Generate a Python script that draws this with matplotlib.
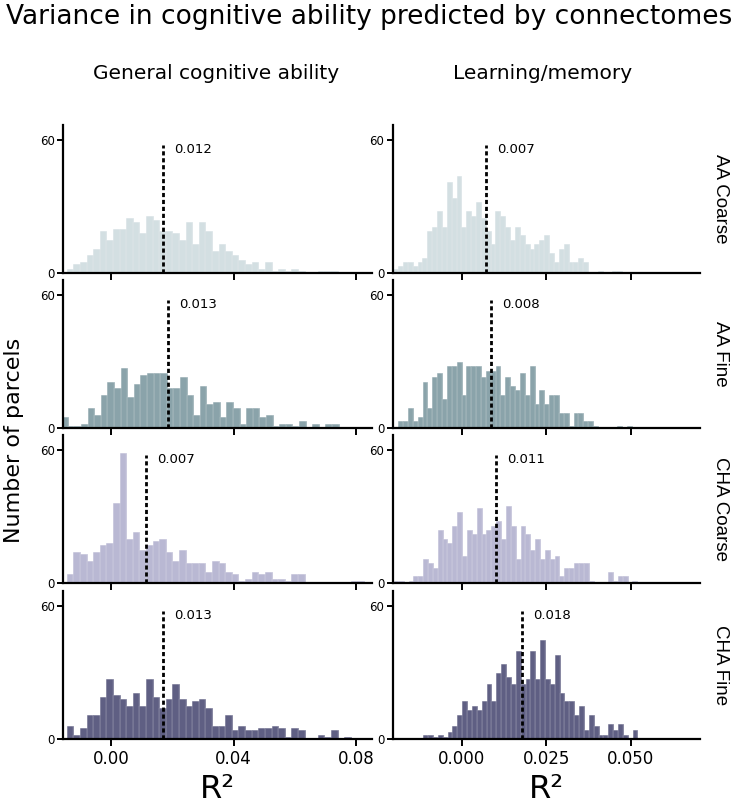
import numpy as np
import matplotlib
matplotlib.use("Agg")
import matplotlib.pyplot as plt

# histogram bin counts (number of parcels)
rows = ["AA Coarse", "AA Fine", "CHA Coarse", "CHA Fine"]
cols = ["General cognitive ability", "Learning/memory"]

gen_bin_width = 0.00216
mem_bin_width = 0.00144
gen_first_edge = [-0.01454, -0.01637, -0.01454, -0.01454]
mem_first_edge = [-0.02023, -0.01875, -0.02003, -0.01135]

gen_aa_coarse = [2, 4, 5, 8, 11, 19, 15, 20, 20, 25, 23, 18, 26, 24, 19, 19, 18, 15, 23, 13, 23,
                 19, 10, 13, 10, 8, 6, 4, 5, 2, 5, 1, 2, 1, 2, 1, 0, 0, 1, 1, 1]
gen_aa_fine = [5, 1, 1, 2, 9, 6, 15, 21, 18, 27, 14, 20, 24, 25, 25, 25, 18, 18, 23, 15, 6,
               19, 11, 12, 5, 12, 9, 2, 9, 9, 5, 6, 1, 2, 2, 1, 3, 0, 2, 0, 2, 2]
gen_cha_coarse = [4, 14, 13, 10, 14, 17, 18, 36, 59, 20, 23, 15, 17, 19, 20, 14, 10, 15, 9, 9, 9,
                  5, 10, 9, 5, 4, 1, 2, 5, 4, 5, 2, 2, 1, 4, 4, 0, 0, 0, 0, 0, 0, 0, 1, 1]
gen_cha_fine = [6, 2, 5, 11, 11, 19, 27, 20, 18, 15, 21, 15, 27, 19, 14, 18, 25, 18, 15, 17, 18,
                14, 6, 6, 11, 4, 6, 4, 4, 5, 5, 6, 5, 1, 5, 4, 0, 0, 2, 1, 4, 0, 1]

mem_aa_coarse = [2, 3, 5, 5, 3, 5, 7, 19, 21, 28, 21, 41, 34, 44, 21, 28, 26, 32, 25, 19, 13, 28,
                 26, 21, 15, 21, 17, 13, 11, 13, 15, 17, 9, 5, 11, 13, 5, 5, 7, 5, 0, 0, 1, 0, 0,
                 1, 1]
mem_aa_fine = [3, 3, 9, 3, 5, 21, 9, 23, 25, 13, 28, 28, 30, 15, 28, 28, 28, 23, 26, 26, 28, 15,
               23, 19, 17, 25, 15, 28, 11, 17, 11, 15, 15, 7, 7, 1, 7, 7, 3, 3, 1, 0, 0, 0, 0, 1,
               0, 1]
mem_cha_coarse = [1, 1, 0, 1, 3, 3, 11, 9, 7, 24, 20, 18, 26, 32, 12, 24, 22, 34, 22, 24, 26, 28,
                  20, 35, 26, 11, 26, 22, 15, 20, 11, 15, 11, 12, 3, 7, 7, 9, 9, 9, 1, 0, 0, 0, 5,
                  1, 3, 3, 0, 1]
mem_cha_fine = [2, 2, 1, 2, 1, 3, 6, 11, 17, 13, 15, 13, 17, 25, 17, 30, 34, 28, 25, 40, 25, 27,
                40, 27, 45, 27, 25, 38, 21, 17, 17, 11, 15, 4, 11, 6, 2, 2, 7, 4, 7, 2, 0, 4]

gen_counts = [gen_aa_coarse, gen_aa_fine, gen_cha_coarse, gen_cha_fine]
mem_counts = [mem_aa_coarse, mem_aa_fine, mem_cha_coarse, mem_cha_fine]

gen_line = [0.0170, 0.0184, 0.0114, 0.0168]
mem_line = [0.0072, 0.0087, 0.0102, 0.0178]
gen_line_labels = ["0.012", "0.013", "0.007", "0.013"]
mem_line_labels = ["0.007", "0.008", "0.011", "0.018"]

colors = ["#d3dfe2", "#8aa3aa", "#b9b8d3", "#5f5f83"]

gen_xticks = [0.0, 0.04, 0.08]
gen_xticklabels = ["0.00", "0.04", "0.08"]
mem_xticks = [0.0, 0.025, 0.05]
mem_xticklabels = ["0.000", "0.025", "0.050"]

fig = plt.figure(figsize=(7.5, 8.05), dpi=100)

row_bottoms = [0.6609, 0.4683, 0.2758, 0.082]
row_h = 0.1839
col_lefts = [0.084, 0.5236]
col_w = [0.412, 0.4097]
xlims = [(-0.0158, 0.0853), (-0.0204, 0.0705)]

col_data = [
    (gen_counts, gen_first_edge, gen_bin_width, gen_line, gen_line_labels, gen_xticks, gen_xticklabels),
    (mem_counts, mem_first_edge, mem_bin_width, mem_line, mem_line_labels, mem_xticks, mem_xticklabels),
]

for c, (counts, first_edge, bw, lines, labels, xt, xtl) in enumerate(col_data):
    for r in range(4):
        ax = fig.add_axes([col_lefts[c], row_bottoms[r], col_w[c], row_h])
        n = counts[r]
        edges = first_edge[r] + bw * np.arange(len(n))
        ax.bar(edges, n, width=bw, align="edge", color=colors[r],
               edgecolor=colors[r], linewidth=0.4)
        ax.bar(edges, n, width=bw, align="edge", fill=False,
               edgecolor="white", linewidth=0.25, alpha=0.35)
        ax.plot([lines[r], lines[r]], [0, 58], color="black", lw=2,
                linestyle=(0, (1.5, 1.0)))
        ax.annotate(labels[r], xy=(lines[r], 56), xytext=(8, 0),
                    textcoords="offset points", ha="left", va="center", fontsize=9.5)
        ax.set_xlim(*xlims[c])
        ax.set_ylim(0, 67)
        ax.set_yticks([0, 60])
        ax.set_xticks(xt)
        if r == 3:
            ax.set_xticklabels(xtl, fontsize=12)
            ax.set_xlabel("R²", fontsize=23, labelpad=4)
        else:
            ax.set_xticklabels([])
        ax.tick_params(axis="y", labelsize=8.5, length=4, width=1.4, pad=2)
        ax.tick_params(axis="x", length=5, width=1.4, pad=3)
        for s in ["top", "right"]:
            ax.spines[s].set_visible(False)
        for s in ["left", "bottom"]:
            ax.spines[s].set_linewidth(1.6)
        if c == 1:
            ax.text(1.068, 0.5, rows[r], transform=ax.transAxes, rotation=-90,
                    ha="center", va="center", fontsize=13.5, family="Liberation Sans")

fig.text(0.492, 0.979, "Variance in cognitive ability predicted by connectomes",
         ha="center", va="center", fontsize=19)
fig.text(0.288, 0.909, cols[0], ha="center", va="center", fontsize=14.5)
fig.text(0.724, 0.909, cols[1], ha="center", va="center", fontsize=14.5)
fig.text(0.019, 0.453, "Number of parcels", rotation=90, ha="center", va="center",
         fontsize=16)

fig.savefig("out.png", dpi=100)
